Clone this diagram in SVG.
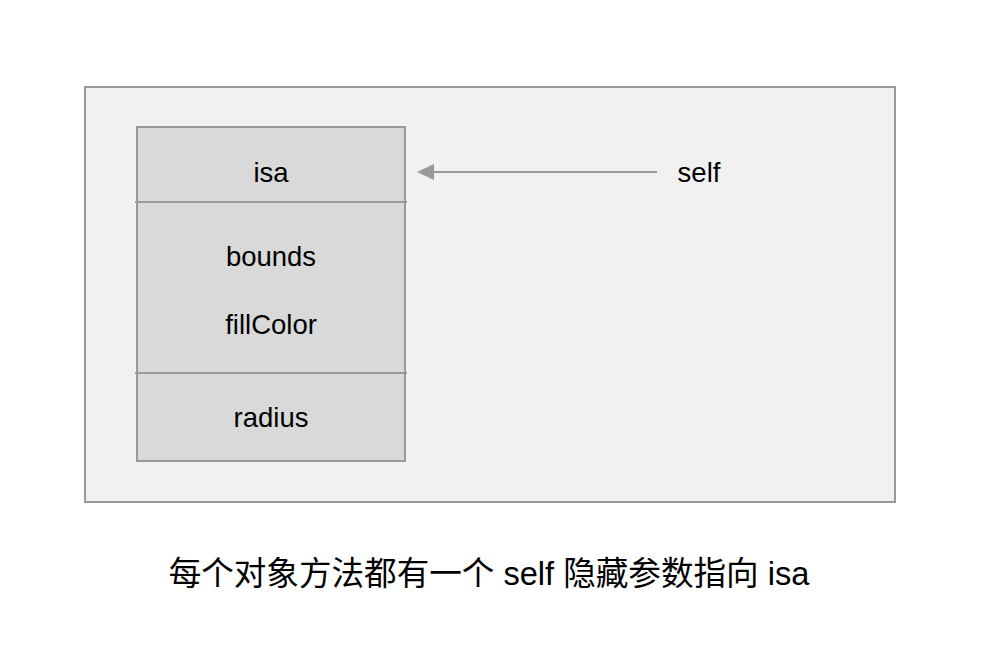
<svg xmlns="http://www.w3.org/2000/svg" width="982" height="664" viewBox="0 0 982 664">
<style>
.t{font-family:"Liberation Sans",Arial,sans-serif;font-size:27.5px;fill:#000;text-anchor:middle}
.cap{font-family:"Liberation Sans","Noto Sans CJK SC",sans-serif;font-size:32.6px;fill:#000;text-anchor:middle}
.ln{stroke:#999;stroke-width:2;fill:none}
</style>
<rect width="982" height="664" fill="#fff"/>
<g id="container">
<rect x="85" y="87" width="810" height="415" fill="#f1f1f1" stroke="#999" stroke-width="2"/>
</g>
<g id="object">
<rect x="137" y="127" width="268" height="334" fill="#d9d9d9" stroke="#999" stroke-width="2"/>
<line class="ln" x1="135" y1="202" x2="407" y2="202"/>
<line class="ln" x1="135" y1="373" x2="407" y2="373"/>
<text class="t" x="271" y="182">isa</text>
<text class="t" x="271" y="266">bounds</text>
<text class="t" x="271" y="334">fillColor</text>
<text class="t" x="271" y="427">radius</text>
</g>
<g id="self">
<text class="t" x="699" y="182">self</text>
</g>
<g id="connectors">
<line class="ln" x1="657" y1="172" x2="428" y2="172"/>
<path d="M434,164 L417,172 L434,180 Z" fill="#999"/>
</g>
<g id="caption">
<text class="cap" x="489" y="585">每个对象方法都有一个 self 隐藏参数指向 isa</text>
</g>
</svg>
